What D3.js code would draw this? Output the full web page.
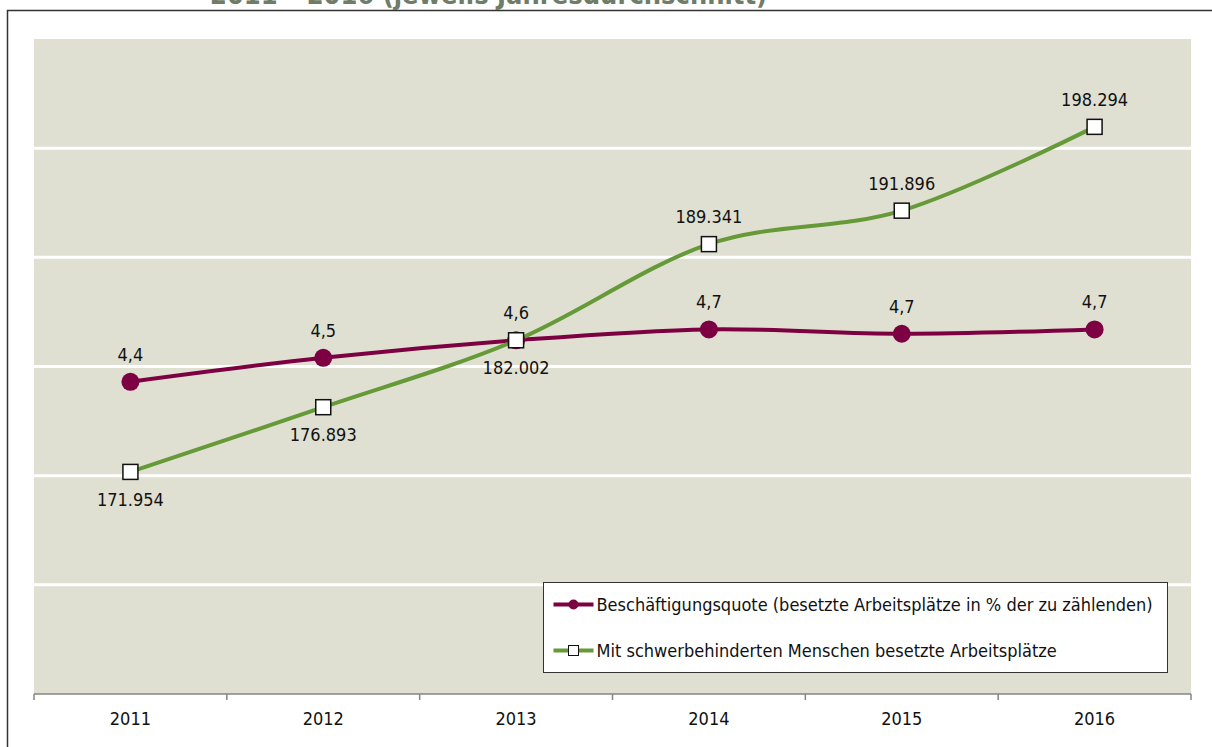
<!DOCTYPE html>
<html>
<head>
<meta charset="utf-8">
<script src="https://cdn.jsdelivr.net/npm/d3@7"></script>
<style>
  body { margin: 0; background: #fff; }
  svg { display: block; font-family: 'DejaVu Sans Condensed', 'DejaVu Sans', sans-serif; font-stretch: condensed; }
</style>
</head>
<body>
<div id="chart"></div>
<script>
// Jahre und Werte
const years = ['2011', '2012', '2013', '2014', '2015', '2016'];
const quote = [4.43, 4.54, 4.62, 4.67, 4.65, 4.67];
const plaetze = [171954, 176893, 182002, 189341, 191896, 198294];
const plaetzeLabelAbove = [false, false, false, true, true, true];
const legendLabels = [
    'Beschäftigungsquote (besetzte Arbeitsplätze in % der zu zählenden)',
    'Mit schwerbehinderten Menschen besetzte Arbeitsplätze'
];

const W = 1212, H = 747;
const plot = { left: 34, right: 1191, top: 39, bottom: 694 };
const colQuote = '#7d0042';
const colPlaetze = '#669a38';

const svg = d3.select('#chart').append('svg').attr('width', W).attr('height', H);

// Rahmen und (oben abgeschnittener) Titel
svg.append('rect')
    .attr('x', 7.5).attr('y', 10.5)
    .attr('width', W + 20).attr('height', H + 20)
    .attr('fill', '#fff').attr('stroke', '#333').attr('stroke-width', 1.5);
svg.append('text')
    .attr('x', 210).attr('y', 4)
    .attr('font-size', '27px').attr('font-weight', 'bold')
    .attr('fill', '#6f7c67')
    .text('2011 – 2016 (jeweils Jahresdurchschnitt)');

const x = d3.scaleBand().domain(years).range([plot.left, plot.right]);
const yQ = d3.scaleLinear().domain([3, 6]).range([plot.bottom, plot.top]);
const yP = d3.scaleLinear().domain([155000, 205000]).range([plot.bottom, plot.top]);
const cx = d => x(d) + x.bandwidth() / 2;

svg.append('rect')
    .attr('x', plot.left).attr('y', plot.top)
    .attr('width', plot.right - plot.left).attr('height', plot.bottom - plot.top)
    .attr('fill', '#dfe0d2');

// Gitterlinien
svg.append('g').selectAll('line')
    .data(yQ.ticks(6).filter(t => t > 3 && t < 6))
    .join('line')
    .attr('x1', plot.left).attr('x2', plot.right)
    .attr('y1', d => yQ(d)).attr('y2', d => yQ(d))
    .attr('stroke', '#fff').attr('stroke-width', 3);

// x-Achse
const xAxis = svg.append('g').attr('transform', `translate(0,${plot.bottom})`);
xAxis.append('line')
    .attr('x1', plot.left).attr('x2', plot.right)
    .attr('stroke', '#858585').attr('stroke-width', 1.5);
xAxis.selectAll('line.tick')
    .data(years.map(d => x(d)).concat([plot.right]))
    .join('line').attr('class', 'tick')
    .attr('x1', d => d).attr('x2', d => d)
    .attr('y1', 0).attr('y2', 6)
    .attr('stroke', '#858585').attr('stroke-width', 1.5);
xAxis.selectAll('text')
    .data(years)
    .join('text')
    .attr('x', d => cx(d)).attr('y', 31)
    .attr('text-anchor', 'middle')
    .attr('font-size', '18px').attr('fill', '#111')
    .text(d => d);

const curve = d3.curveCatmullRom.alpha(0);

// Linie Beschäftigungsquote
const lineQ = d3.line().x((d, i) => cx(years[i])).y(d => yQ(d)).curve(curve);
svg.append('path').datum(quote)
    .attr('d', lineQ)
    .attr('fill', 'none').attr('stroke', colQuote).attr('stroke-width', 4);

// Linie besetzte Arbeitsplätze
const lineP = d3.line().x((d, i) => cx(years[i])).y(d => yP(d)).curve(curve);
svg.append('path').datum(plaetze)
    .attr('d', lineP)
    .attr('fill', 'none').attr('stroke', colPlaetze).attr('stroke-width', 4);

svg.append('g').selectAll('circle')
    .data(quote)
    .join('circle')
    .attr('cx', (d, i) => cx(years[i])).attr('cy', d => yQ(d))
    .attr('r', 9).attr('fill', colQuote);

svg.append('g').selectAll('rect')
    .data(plaetze)
    .join('rect')
    .attr('x', (d, i) => cx(years[i]) - 7.5).attr('y', d => yP(d) - 7.5)
    .attr('width', 15).attr('height', 15)
    .attr('fill', '#fff').attr('stroke', '#111').attr('stroke-width', 1.5);

// Datenbeschriftungen
const fmtQ = d => d3.format('.1f')(d).replace('.', ',');
const fmtP = d => d3.format(',')(d).replace(/,/g, '.');

svg.append('g').selectAll('text')
    .data(quote)
    .join('text')
    .attr('x', (d, i) => cx(years[i])).attr('y', d => yQ(d) - 21)
    .attr('text-anchor', 'middle').attr('font-size', '18px').attr('fill', '#111')
    .text(fmtQ);

svg.append('g').selectAll('text')
    .data(plaetze)
    .join('text')
    .attr('x', (d, i) => cx(years[i]))
    .attr('y', (d, i) => plaetzeLabelAbove[i] ? yP(d) - 21 : yP(d) + 34)
    .attr('text-anchor', 'middle').attr('font-size', '18px').attr('fill', '#111')
    .text(fmtP);

// Legende
const lg = svg.append('g').attr('transform', 'translate(543.5,582.5)');
lg.append('rect')
    .attr('width', 624).attr('height', 90)
    .attr('fill', '#fff').attr('stroke', '#333').attr('stroke-width', 1);
const entries = lg.selectAll('g.entry')
    .data(legendLabels)
    .join('g').attr('class', 'entry')
    .attr('transform', (d, i) => `translate(0,${22 + i * 46})`);
entries.append('line')
    .attr('x1', 10).attr('x2', 50)
    .attr('stroke', (d, i) => i === 0 ? colQuote : colPlaetze).attr('stroke-width', 4);
entries.each(function (d, i) {
    const g = d3.select(this);
    if (i === 0) {
        g.append('circle').attr('cx', 30).attr('r', 5).attr('fill', colQuote);
    } else {
        g.append('rect').attr('x', 25).attr('y', -5).attr('width', 10).attr('height', 10)
            .attr('fill', '#fff').attr('stroke', '#111').attr('stroke-width', 1);
    }
});
entries.append('text')
    .attr('x', 53).attr('y', 6)
    .attr('font-size', '18px').attr('fill', '#111')
    .text(d => d);
</script>
</body>
</html>
